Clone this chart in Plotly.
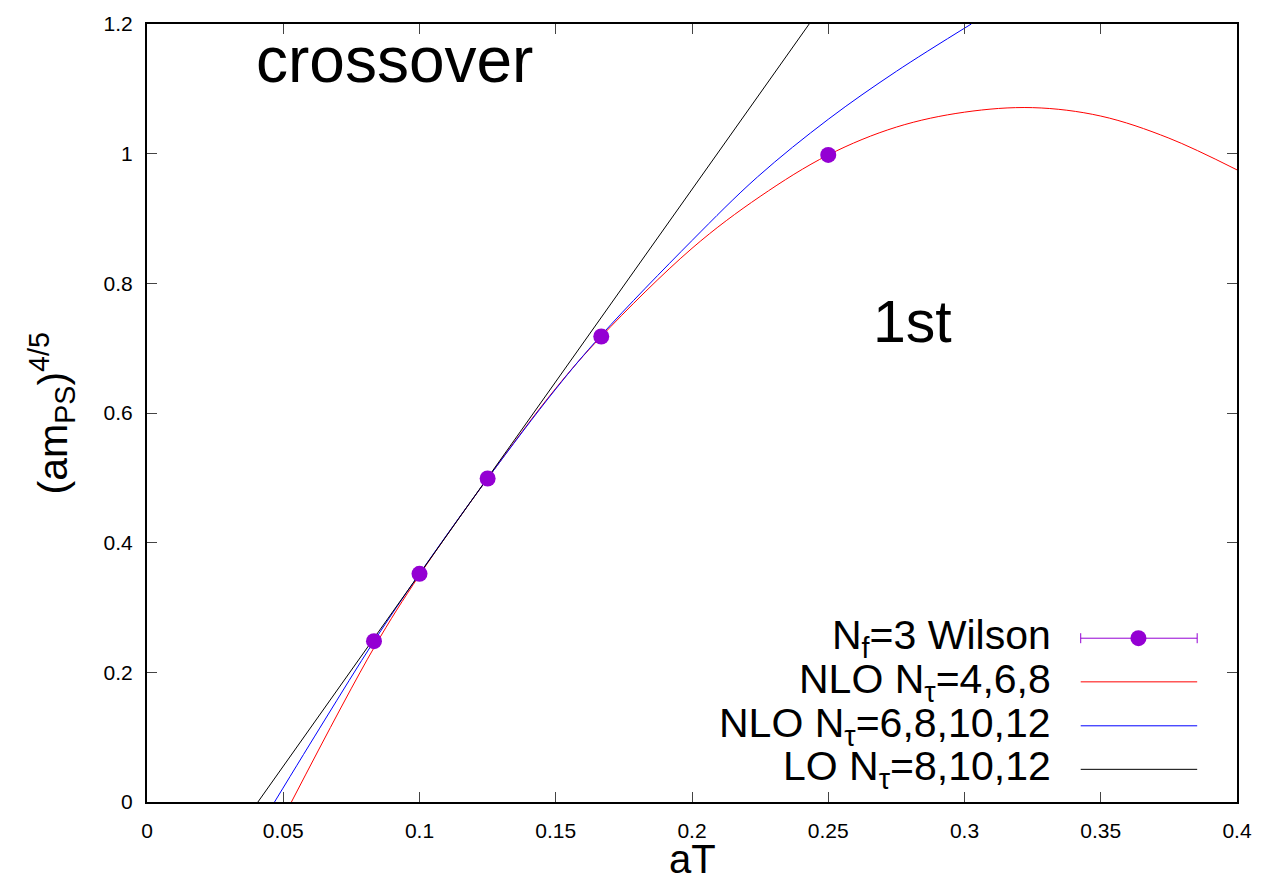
import plotly.graph_objects as go

# ---- data ----
wilson_x = [0.0833, 0.1, 0.125, 0.1667, 0.25]
wilson_y = [0.248, 0.352, 0.499, 0.718, 0.998]

nlo468_x = [0.053, 0.0833, 0.1, 0.125, 0.15, 0.1667, 0.2, 0.225, 0.25, 0.275, 0.3, 0.325, 0.35, 0.375, 0.4]
nlo468_y = [0.0, 0.238, 0.350, 0.499, 0.638, 0.718, 0.854, 0.934, 0.998, 1.041, 1.064, 1.071, 1.058, 1.024, 0.975]

nlo6812_x = [0.0468, 0.065, 0.0833, 0.1, 0.125, 0.15, 0.1667, 0.2, 0.224, 0.25, 0.275, 0.3025]
nlo6812_y = [0.0, 0.125, 0.248, 0.352, 0.499, 0.637, 0.720, 0.866, 0.964, 1.053, 1.127, 1.2]

lo_x = [0.0407, 0.243]
lo_y = [0.0, 1.2]

legend_labels = ["N<sub>f</sub>=3 Wilson", "NLO N<sub>τ</sub>=4,6,8",
                 "NLO N<sub>τ</sub>=6,8,10,12", "LO N<sub>τ</sub>=8,10,12"]
x_ticks = [0, 0.05, 0.1, 0.15, 0.2, 0.25, 0.3, 0.35, 0.4]
x_ticklabels = ["0", "0.05", "0.1", "0.15", "0.2", "0.25", "0.3", "0.35", "0.4"]
y_ticks = [0, 0.2, 0.4, 0.6, 0.8, 1.0, 1.2]
y_ticklabels = ["0", "0.2", "0.4", "0.6", "0.8", "1", "1.2"]

FONT = "Liberation Sans, Arial, Helvetica, sans-serif"
PURPLE = "#9400d3"

fig = go.Figure()
fig.add_trace(go.Scatter(x=nlo468_x, y=nlo468_y, mode="lines",
                         line=dict(color="#ff0000", width=1, shape="spline", smoothing=1.0),
                         showlegend=False))
fig.add_trace(go.Scatter(x=nlo6812_x, y=nlo6812_y, mode="lines",
                         line=dict(color="#0000ff", width=1, shape="spline", smoothing=1.0),
                         showlegend=False))
fig.add_trace(go.Scatter(x=lo_x, y=lo_y, mode="lines", line=dict(color="#000000", width=1),
                         showlegend=False))
fig.add_trace(go.Scatter(x=wilson_x, y=wilson_y, mode="markers",
                         marker=dict(color=PURPLE, size=16, line=dict(width=0)), showlegend=False))

L, R, T, B = 147, 22, 23, 80
W, H = 1264, 882
pw, ph = W - L - R, H - T - B

def px_x(p):
    return (p - L) / pw

def px_y(p):
    return (H - B - p) / ph

annotations = []
shapes = []
row_y = [638, 681.7, 725.7, 769.3]
for i, lab in enumerate(legend_labels):
    annotations.append(dict(x=px_x(1057), y=px_y(row_y[i]), xref="paper", yref="paper",
                            text=lab, showarrow=False, xanchor="right", yanchor="middle",
                            font=dict(family=FONT, size=41, color="black")))
# legend samples
x0s, x1s = px_x(1085), px_x(1202)
shapes.append(dict(type="line", xref="paper", yref="paper", x0=x0s, x1=x1s, y0=px_y(row_y[0]), y1=px_y(row_y[0]),
                   line=dict(color=PURPLE, width=1)))
for xx in (x0s, x1s):
    shapes.append(dict(type="line", xref="paper", yref="paper", x0=xx, x1=xx,
                       y0=px_y(row_y[0] - 5), y1=px_y(row_y[0] + 5), line=dict(color=PURPLE, width=1)))
shapes.append(dict(type="circle", xref="paper", yref="paper", xsizemode="pixel", ysizemode="pixel",
                   xanchor=px_x(1143), yanchor=px_y(row_y[0]), x0=-8, x1=8, y0=-8, y1=8,
                   fillcolor=PURPLE, line=dict(width=0)))
for i, col in zip([1, 2, 3], ["#ff0000", "#0000ff", "#000000"]):
    shapes.append(dict(type="line", xref="paper", yref="paper", x0=x0s, x1=x1s,
                       y0=px_y(row_y[i]), y1=px_y(row_y[i]), line=dict(color=col, width=1)))

# text labels
annotations.append(dict(x=0.091, y=1.144, xref="x", yref="y", text="crossover", showarrow=False,
                        xanchor="center", yanchor="middle", font=dict(family=FONT, size=64, color="black")))
annotations.append(dict(x=0.281, y=0.741, xref="x", yref="y", text="1st", showarrow=False,
                        xanchor="center", yanchor="middle", font=dict(family=FONT, size=59, color="black")))
# axis titles
annotations.append(dict(x=0.5, y=px_y(859), xref="paper", yref="paper", text="aT", showarrow=False,
                        xanchor="center", yanchor="middle", font=dict(family=FONT, size=40, color="black")))
annotations.append(dict(x=px_x(52), y=0.5, xref="paper", yref="paper", text="(am<sub>PS</sub>)<sup>4/5</sup>",
                        showarrow=False, textangle=-90, xanchor="center", yanchor="middle",
                        font=dict(family=FONT, size=41, color="black")))

axis_common = dict(showline=True, linecolor="black", linewidth=2, mirror="ticks", ticks="inside",
                   ticklen=10, tickwidth=1, tickcolor="#444", showgrid=False, zeroline=False,
                   tickfont=dict(family=FONT, size=21, color="black"))

fig.update_layout(
    width=W, height=H,
    margin=dict(l=L, r=R, t=T, b=B),
    paper_bgcolor="white", plot_bgcolor="white",
    xaxis=dict(range=[0, 0.4], tickvals=x_ticks, ticktext=x_ticklabels, ticklabelstandoff=9, **axis_common),
    yaxis=dict(range=[0, 1.2], tickvals=y_ticks, ticktext=y_ticklabels, ticklabelstandoff=8, **axis_common),
    annotations=annotations,
    shapes=shapes,
    showlegend=False,
)

fig.write_html("out.html", config={"displayModeBar": False},
               post_script="document.body.style.margin='0';")
